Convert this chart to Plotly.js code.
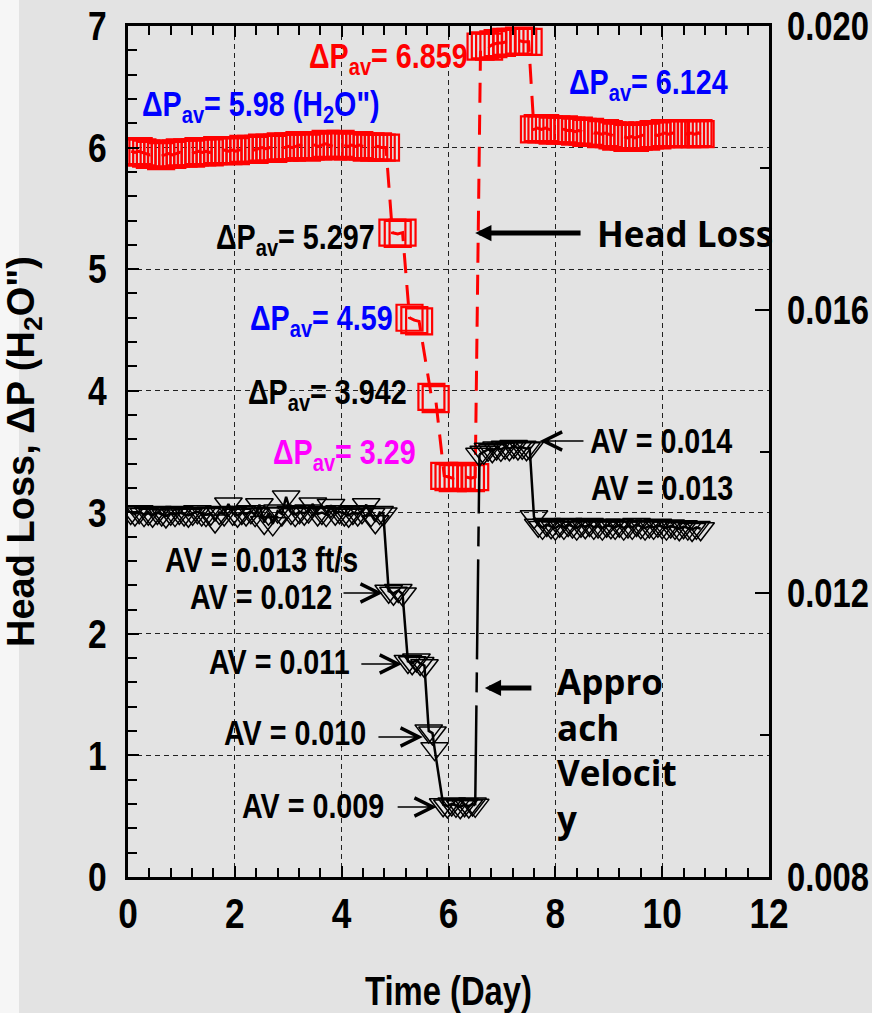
<!DOCTYPE html>
<html>
<head>
<meta charset="utf-8">
<script src="https://cdn.plot.ly/plotly-3.0.1.min.js"></script>
<style>html,body{margin:0;padding:0;background:#e3e3e3;}#chart{width:872px;height:1013px;}</style>
</head>
<body>
<div id="chart"></div>
<script>
// ---- Head loss (left axis, inches of water) ----
const hlDays = [
0.06,0.13,0.20,0.27,0.34,0.41,0.48,0.55,0.62,0.69,
0.76,0.83,0.90,0.97,1.04,1.11,1.18,1.25,1.32,1.39,
1.46,1.53,1.60,1.67,1.74,1.81,1.88,1.95,2.02,2.09,
2.16,2.23,2.30,2.37,2.44,2.51,2.58,2.65,2.72,2.79,
2.86,2.93,3.00,3.07,3.14,3.21,3.28,3.35,3.42,3.49,
3.56,3.63,3.70,3.77,3.84,3.91,3.98,4.05,4.12,4.19,
4.26,4.33,4.40,4.47,4.54,4.61,4.68,4.75,4.83,
4.95,5.05,5.14,
5.27,5.36,5.45,
5.68,5.76,
5.92,6.00,6.08,6.17,6.25,6.33,6.42,6.50,
6.60,6.68,6.76,6.84,6.92,7.00,7.08,7.16,7.24,7.32,7.40,7.50,
7.60,7.67,7.74,7.81,7.88,7.95,8.02,8.09,8.16,8.23,
8.30,8.37,8.44,8.51,8.58,8.65,8.72,8.79,8.86,8.93,
9.00,9.07,9.14,9.21,9.28,9.35,9.42,9.49,9.56,9.63,
9.70,9.77,9.84,9.91,9.98,10.05,10.12,10.19,10.26,10.33,
10.40,10.47,10.54,10.61,10.68,10.72];
const hlValues = [
5.97,5.96,5.97,5.96,5.95,5.94,5.95,5.94,5.93,5.94,
5.95,5.94,5.95,5.96,5.95,5.96,5.95,5.96,5.97,5.96,
5.97,5.96,5.97,5.98,5.97,5.98,5.97,5.98,5.97,5.98,
5.99,5.98,5.99,5.98,5.99,6.00,5.99,6.00,5.99,6.00,
6.01,6.00,6.01,6.00,6.01,6.02,6.01,6.00,6.01,6.02,
6.01,6.02,6.03,6.02,6.01,6.02,6.03,6.02,6.01,6.02,
6.01,6.02,6.01,6.00,6.01,6.00,6.01,6.00,6.00,
5.30,5.29,5.30,
4.60,4.58,4.57,
3.95,3.93,
3.30,3.29,3.28,3.29,3.30,3.29,3.28,3.29,
6.83,6.84,6.83,6.85,6.86,6.86,6.87,6.87,6.87,6.88,6.87,6.87,
6.15,6.16,6.15,6.16,6.15,6.14,6.15,6.14,6.15,6.14,
6.14,6.13,6.14,6.13,6.12,6.13,6.12,6.12,6.11,6.12,
6.11,6.10,6.09,6.10,6.09,6.08,6.09,6.08,6.09,6.10,
6.09,6.10,6.11,6.10,6.11,6.12,6.11,6.12,6.11,6.12,
6.12,6.11,6.12,6.11,6.12,6.11];

// ---- Approach velocity (right axis, ft/s) ----
const avDays = [
0.05,0.13,0.21,0.30,0.38,0.46,0.55,0.63,0.71,0.80,
0.88,0.96,1.05,1.13,1.21,1.30,1.38,1.46,1.55,1.63,
1.71,1.80,1.88,1.96,2.05,2.13,2.21,2.30,2.38,2.46,
2.55,2.63,2.71,2.80,2.88,2.96,3.05,3.13,3.21,3.30,
3.38,3.46,3.55,3.63,3.71,3.80,3.88,3.96,4.05,4.13,
4.21,4.30,4.38,4.46,4.55,4.63,4.71,4.78,
4.88,4.97,5.06,5.14,
5.24,5.32,5.40,5.47,5.55,
5.63,5.70,5.74,
5.90,5.98,6.06,6.14,6.22,6.30,6.38,6.45,6.50,
6.58,6.66,6.74,6.82,6.90,6.98,7.06,7.14,7.22,7.30,7.38,7.46,7.52,
7.60,7.68,7.76,7.84,7.92,8.00,8.08,8.16,8.24,8.32,
8.40,8.48,8.56,8.64,8.72,8.80,8.88,8.96,9.04,9.12,
9.20,9.28,9.36,9.44,9.52,9.60,9.68,9.76,9.84,9.92,
10.00,10.08,10.16,10.24,10.32,10.40,10.48,10.56,10.64,10.72];
const avValues = [
0.01314,0.01312,0.01315,0.01311,0.01313,0.01310,0.01314,0.01312,0.01309,0.01313,
0.01311,0.01314,0.01312,0.01310,0.01313,0.01315,0.01312,0.01311,0.01313,0.01302,
0.01314,0.01312,0.01326,0.01313,0.01310,0.01314,0.01312,0.01315,0.01311,0.01325,
0.01300,0.01313,0.01298,0.01316,0.01312,0.01336,0.01314,0.01311,0.01315,0.01313,
0.01316,0.01326,0.01312,0.01314,0.01311,0.01324,0.01313,0.01315,0.01312,0.01310,
0.01314,0.01312,0.01315,0.01325,0.01311,0.01301,0.01314,0.01312,
0.01203,0.01200,0.01204,0.01199,
0.01104,0.01102,0.01106,0.01101,0.01098,
0.01006,0.01003,0.00981,
0.00902,0.00900,0.00903,0.00901,0.00899,0.00902,0.00900,0.00903,0.00901,
0.01396,0.01399,0.01403,0.01401,0.01405,0.01403,0.01406,0.01404,0.01407,0.01405,0.01406,0.01404,0.01405,
0.01308,0.01296,0.01293,0.01297,0.01294,0.01292,0.01296,0.01293,0.01297,0.01295,
0.01292,0.01296,0.01294,0.01297,0.01293,0.01295,0.01292,0.01296,0.01294,0.01293,
0.01296,0.01292,0.01295,0.01293,0.01297,0.01294,0.01292,0.01295,0.01293,0.01296,
0.01294,0.01292,0.01295,0.01293,0.01291,0.01294,0.01292,0.01290,0.01293,0.01291];

const xTickVals = [0,2,4,6,8,10,12];
const yTickVals = [0,1,2,3,4,5,6,7];
const y2TickVals = [0.008,0.012,0.016,0.020];
const y2TickText = ['0.008','0.012','0.016','0.020'];

// split the velocity line at its largest upward jump (drawn as a long-dash connector)
let jump = 0, best = -Infinity;
for (let i = 0; i < avValues.length - 1; i++) {
  const d = avValues[i+1] - avValues[i];
  if (d > best) { best = d; jump = i; }
}
const avLineX = [...avDays.slice(0, jump+1), null, ...avDays.slice(jump+1)];
const avLineY = [...avValues.slice(0, jump+1), null, ...avValues.slice(jump+1)];

const ARIAL = '"Liberation Sans", Arial, sans-serif';
const GOTHIC = '"Open Sans", Lato, sans-serif';
const NARROW_SCALE = 0.82;   // Arial Narrow look: Arial glyphs condensed horizontally

const traces = [
  {x: hlDays, y: hlValues, type: 'scatter', mode: 'lines+markers', name: 'Head Loss',
   line: {color: '#ff0000', width: 3, dash: '20px,12px'},
   marker: {symbol: 'square-open', size: 26, color: '#ff0000', line: {width: 2.2}},
   xaxis: 'x', yaxis: 'y', showlegend: false},
  {x: avLineX, y: avLineY, type: 'scatter', mode: 'lines+markers', name: 'Approach Velocity',
   line: {color: '#000000', width: 2.5}, connectgaps: false,
   marker: {symbol: 'triangle-down-open', size: 24, color: '#000000', line: {width: 1.5}},
   xaxis: 'x', yaxis: 'y2', showlegend: false},
  {x: [avDays[jump], avDays[jump+1]], y: [avValues[jump], avValues[jump+1]], type: 'scatter', mode: 'lines',
   line: {color: '#000000', width: 2.5, dash: '100px,13px,20px,13px'},
   xaxis: 'x', yaxis: 'y2', showlegend: false, hoverinfo: 'skip'}
];

function txt(text, x, y, color, size, family, extra) {
  return Object.assign({text: text, x: x, y: y, xref: 'x', yref: 'y', showarrow: false,
    xanchor: 'left', yanchor: 'middle', align: 'left',
    font: {family: family || ARIAL, size: size || 35, color: color || '#000', weight: 700}}, extra || {});
}
function arrow(x, y, ax, ay, head, width, size) {
  return {text: '', x: x, y: y, ax: ax, ay: ay, xref: 'x', yref: 'y', axref: 'x', ayref: 'y',
    showarrow: true, arrowhead: head, arrowwidth: width, arrowsize: size, arrowcolor: '#000', standoff: 0};
}

const annotations = [
  txt('ΔP<sub>av</sub>= 5.98 (H<sub>2</sub>O")', 0.22, 6.34, '#0000ff'),
  txt('ΔP<sub>av</sub>= 6.859', 3.35, 6.74, '#ff0000'),
  txt('ΔP<sub>av</sub>= 6.124', 8.22, 6.52, '#0000ff'),
  txt('ΔP<sub>av</sub>= 5.297', 1.61, 5.25, '#000000'),
  txt('ΔP<sub>av</sub>= 4.59', 2.24, 4.58, '#0000ff'),
  txt('ΔP<sub>av</sub>= 3.942', 2.21, 3.97, '#000000'),
  txt('ΔP<sub>av</sub>= 3.29', 2.68, 3.48, '#ff00ff'),
  txt('AV = 0.013 ft/s', 0.655, 2.61),
  txt('AV = 0.012', 1.12, 2.31),
  txt('AV = 0.011', 1.48, 1.77),
  txt('AV = 0.010', 1.76, 1.185),
  txt('AV = 0.009', 2.10, 0.59),
  txt('AV = 0.014', 8.61, 3.59),
  txt('AV = 0.013', 8.63, 3.20),
  txt('Head Loss', 8.74, 5.29, '#000', 35, GOTHIC),
  txt('Appro<br>ach<br>Velocit<br>y', 7.99, 1.82, '#000', 35, GOTHIC, {yanchor: 'top'}),
  arrow(4.77, 2.336, 4.006, 2.336, 5, 1.5, 2.4),
  arrow(5.13, 1.752, 4.34, 1.752, 5, 1.5, 2.4),
  arrow(5.52, 1.152, 4.66, 1.152, 5, 1.5, 2.4),
  arrow(5.78, 0.576, 5.02, 0.576, 5, 1.5, 2.4),
  arrow(7.71, 3.586, 8.555, 3.586, 5, 1.5, 2.4),
  arrow(6.50, 5.297, 8.50, 5.297, 2, 5, 0.65),
  arrow(6.68, 1.555, 7.58, 1.555, 2, 5, 0.65)
];
const condensedAnn = annotations.map(a => a.text !== '' && a.font.family === ARIAL);

const layout = {
  width: 872, height: 1013,
  margin: {l: 128, r: 103, t: 26, b: 136},
  paper_bgcolor: '#e3e3e3', plot_bgcolor: '#e3e3e3',
  showlegend: false,
  xaxis: {
    range: [0, 12], tickvals: xTickVals, showgrid: true, griddash: '5px,4px', gridcolor: '#222', gridwidth: 1,
    zeroline: false, showline: true, linewidth: 3, linecolor: '#000', mirror: 'ticks',
    ticks: 'inside', ticklen: 11, tickwidth: 2, tickcolor: '#000',
    minor: {dtick: 0.4, ticks: 'inside', ticklen: 9, tickwidth: 2, tickcolor: '#000', showgrid: false},
    tickfont: {family: ARIAL, size: 43, color: '#000', weight: 700}, ticklabelstandoff: -4,
    title: {text: 'Time (Day)', font: {family: ARIAL, size: 40, color: '#000', weight: 700}, standoff: 42}
  },
  yaxis: {
    range: [0, 7], tickvals: yTickVals, showgrid: true, griddash: '5px,4px', gridcolor: '#222', gridwidth: 1,
    zeroline: false, showline: true, linewidth: 3, linecolor: '#000', mirror: false,
    ticks: 'inside', ticklen: 11, tickwidth: 2, tickcolor: '#000',
    minor: {dtick: 0.2, ticks: 'inside', ticklen: 9, tickwidth: 2, tickcolor: '#000', showgrid: false},
    tickfont: {family: ARIAL, size: 41, color: '#000', weight: 700}, ticklabelstandoff: 10,
    title: {text: 'Head Loss, ΔP (H<sub>2</sub>O")', font: {family: ARIAL, size: 38, color: '#000', weight: 700}, standoff: 42}
  },
  yaxis2: {
    range: [0.008, 0.020], overlaying: 'y', side: 'right', tickvals: y2TickVals, ticktext: y2TickText,
    showgrid: false, zeroline: false, showline: true, linewidth: 3, linecolor: '#000',
    ticks: 'inside', ticklen: 14, tickwidth: 2, tickcolor: '#000',
    minor: {dtick: 0.002, tick0: 0.008, ticks: 'inside', ticklen: 9, tickwidth: 2, tickcolor: '#000', showgrid: false},
    tickfont: {family: ARIAL, size: 40, color: '#000', weight: 700}, ticklabelstandoff: 7
  },
  shapes: [
    {type: 'rect', xref: 'paper', yref: 'paper', x0: -0.2, x1: -0.17, y0: -0.17, y1: 1.04,
     fillcolor: '#f6f6f6', line: {width: 0}, layer: 'below'}
  ],
  annotations: annotations
};

// condense a text element horizontally about its anchor x
function condense(t, s) {
  const X = parseFloat(t.getAttribute('x')) || 0;
  const tr = t.getAttribute('transform') || '';
  t.setAttribute('transform', tr + ' translate(' + X + ',0) scale(' + s + ',1) translate(' + (-X) + ',0)');
}

Plotly.newPlot('chart', traces, layout, {displayModeBar: false, staticPlot: true}).then(gd => {
  gd.querySelectorAll('.xtick text, .ytick text, .y2tick text, .xtitle').forEach(t => condense(t, NARROW_SCALE));
  gd.querySelectorAll('g.annotation').forEach(g => {
    const i = +g.getAttribute('data-index');
    if (condensedAnn[i]) {
      const t = g.querySelector('text.annotation-text');
      if (t) condense(t, NARROW_SCALE);
    }
  });
});
</script>
</body>
</html>
